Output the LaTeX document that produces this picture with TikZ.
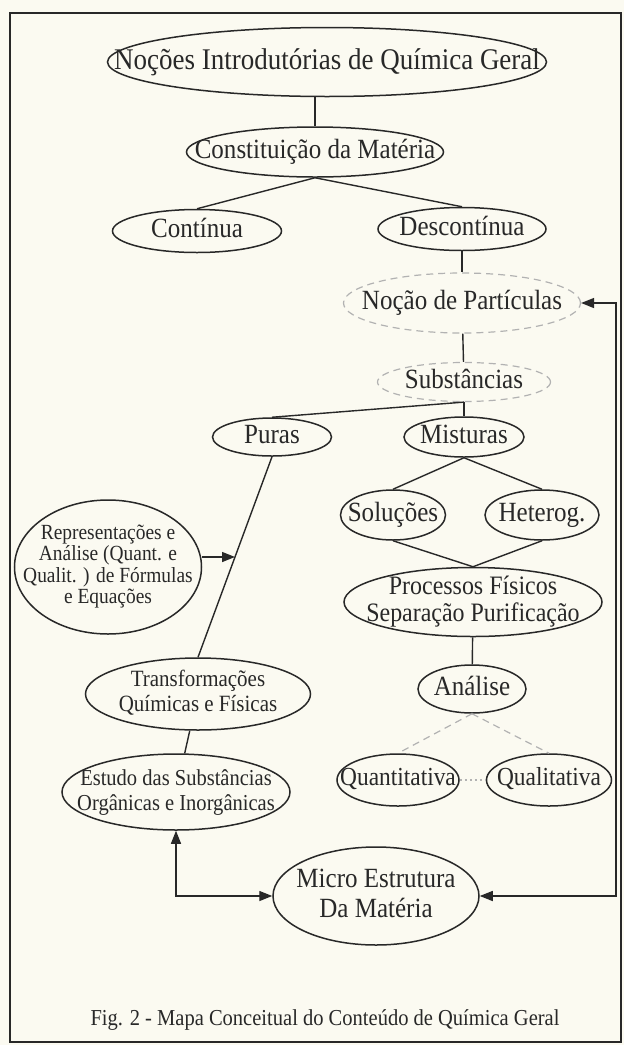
\documentclass[tikz,border=0pt]{standalone}
\usepackage{fontspec}
\setmainfont[FakeStretch=0.9]{Liberation Serif}
\usetikzlibrary{shapes.geometric, arrows.meta}

\definecolor{paper}{RGB}{251,250,241}
\definecolor{ink}{RGB}{40,40,40}

% text set inside an ellipse of fixed size
\newcommand\inellipse[1]{\smash{\makebox[0pt]{\raisebox{-0.25em}{\begin{tabular}[c]{@{}c@{}}#1\end{tabular}}}}}

\begin{document}
\begin{tikzpicture}[
    x=1pt, y=-1pt,
    concept/.style={ellipse, draw=ink, line width=1.5pt, inner sep=0pt, text=ink, font=\fontsize{27.8}{30}\selectfont},
    faded/.style={ellipse, draw=gray!60, line width=1.2pt, dash pattern=on 7pt off 5pt, inner sep=0pt, text=ink, font=\fontsize{27.8}{30}\selectfont},
    link/.style={draw=ink, line width=1.4pt},
    arrow/.style={-{Triangle[length=13pt,width=10pt]}, draw=ink, line width=1.4pt},
    both/.style={{Triangle[length=13pt,width=10pt]}-{Triangle[length=13pt,width=10pt]}, draw=ink, line width=1.4pt},
    weak/.style={draw=gray!60, line width=1.2pt, dash pattern=on 7pt off 5pt},
    dotty/.style={draw=gray!60, line width=1.2pt, dash pattern=on 2pt off 3pt}
]

% Paper and frame
\fill[paper] (0,0) rectangle (624,1045);
\draw[ink, line width=1.5pt] (10,13) rectangle (621,1042);

% Top of the map
\node[concept, minimum width=439pt, minimum height=69pt, font=\fontsize{30}{32}\selectfont] (intro) at (327,62) {\inellipse{Noções Introdutórias de Química Geral}};
\node[concept, minimum width=257pt, minimum height=50pt] (const) at (315,152) {\inellipse{Constituição da Matéria}};
\node[concept, minimum width=169pt, minimum height=43pt] (cont) at (197,231) {\inellipse{Contínua}};
\node[concept, minimum width=168pt, minimum height=43pt] (descont) at (462,229) {\inellipse{Descontínua}};
\node[faded, minimum width=237pt, minimum height=60pt] (noc) at (462,303) {\inellipse{Noção de Partículas}};
\node[faded, minimum width=173pt, minimum height=39pt] (subst) at (464,382) {\inellipse{Substâncias}};

% Substances
\node[concept, minimum width=119pt, minimum height=38pt] (puras) at (272,437) {\inellipse{Puras}};
\node[concept, minimum width=120pt, minimum height=40pt] (mist) at (464,437) {\inellipse{Misturas}};
\node[concept, minimum width=105pt, minimum height=50pt] (sol) at (393,515) {\inellipse{Soluções}};
\node[concept, minimum width=114pt, minimum height=50pt] (het) at (542,515) {\inellipse{Heterog.}};
\node[concept, minimum width=258pt, minimum height=69pt, font=\fontsize{26.6}{25}\selectfont] (proc) at (473,602) {\inellipse{Processos Físicos\\Separação Purificação}};
\node[concept, minimum width=108pt, minimum height=48pt] (anal) at (472,689) {\inellipse{Análise}};
\node[concept, minimum width=122pt, minimum height=52pt, font=\fontsize{26}{28}\selectfont] (quant) at (398,780) {\inellipse{Quantitativa}};
\node[concept, minimum width=125pt, minimum height=52pt, font=\fontsize{26}{28}\selectfont] (qual) at (549,780) {\inellipse{Qualitativa}};

% Left column
\node[concept, minimum width=187pt, minimum height=134pt, font=\fontsize{21.6}{21}\selectfont] (repr) at (108,567) {\inellipse{Representações e\\Análise (Quant. e\\Qualit. ) de Fórmulas\\e Equações}};
\node[concept, minimum width=225pt, minimum height=72pt, font=\fontsize{23.3}{25}\selectfont] (transf) at (198,694) {\inellipse{Transformações\\Químicas e Físicas}};
\node[concept, minimum width=228pt, minimum height=76pt, font=\fontsize{22.8}{25}\selectfont] (estudo) at (176,792) {\inellipse{Estudo das Substâncias\\Orgânicas e Inorgânicas}};
\node[concept, minimum width=206pt, minimum height=98pt] (micro) at (376,896) {\inellipse{Micro Estrutura\\Da Matéria}};

% Caption
\node[text=ink, font=\fontsize{22.8}{24}\selectfont] (caption) at (325,1020) {Fig. 2 - Mapa Conceitual do Conteúdo de Química Geral};

% Connections: top
\draw[link] (intro.south -| const.north) -- (const.north);
\draw[link] (const.south) -- (cont.north);
\draw[link] (const.south) -- (descont.north);
\draw[link] (descont) -- (noc);
\draw[link] (noc) -- (subst);
\draw[link] (subst.south) -- (puras.north);
\draw[link] (subst.south) -- (mist.north);

% Connections: mixtures
\draw[link] (mist.south) -- (sol.north);
\draw[link] (mist.south) -- (het.north);
\draw[link] (sol.south) -- (proc.north);
\draw[link] (het.south) -- (proc.north);
\draw[link] (proc) -- (anal);
\draw[weak] (anal.south) -- (quant.north);
\draw[weak] (anal.south) -- (qual.north);
\draw[dotty] (quant) -- (qual);

% Connections: left column
\draw[link] (puras.south) -- coordinate[pos=0.5] (mid) (transf.north);
\draw[arrow] (repr.east |- mid) -- (mid);
\draw[link] (transf) -- (estudo);

% Loops back to the micro structure
\draw[both] (estudo.south) |- (micro.west);
\draw[both] (noc.east) -- ([xshift=35pt]noc.east) |- (micro.east);

\end{tikzpicture}
\end{document}
